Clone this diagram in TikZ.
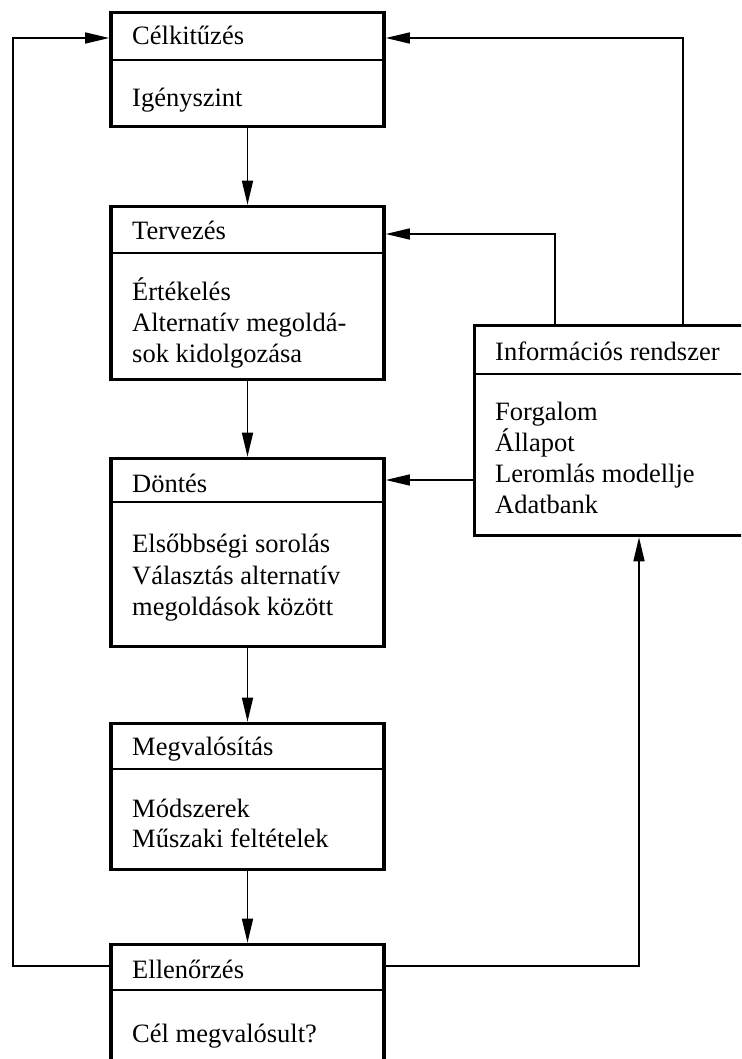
\documentclass[tikz,border=0pt]{standalone}
\usepackage{fontspec}
\setmainfont{Liberation Serif}
\usetikzlibrary{arrows.meta}
\begin{document}
\begin{tikzpicture}[x=1pt,y=-1pt,
  box/.style={draw, line width=3.6pt, inner sep=0pt, minimum width=273pt},
  sep/.style={line width=1.6pt},
  lbl/.style={anchor=base west, inner sep=0pt, font=\fontsize{26.5}{31}\selectfont},
  conn/.style={line width=1.5pt},
  arr/.style={conn, -{Triangle[length=24pt,width=11pt]}}]
\clip (0,0) rectangle (741,1059);

% process boxes
\node[box, minimum height=114pt]   (celk) at (247.5,69.5)   {};
\node[box, minimum height=173pt]   (terv) at (247.5,293)    {};
\node[box, minimum height=188pt]   (dont) at (247.5,552.5)  {};
\node[box, minimum height=146pt]   (megv) at (247.5,796.5)  {};
\node[box, minimum height=135.5pt] (ell)  at (247.5,1012.25) {};
\node[box, minimum width=285.5pt, minimum height=210pt] (info) at (617.25,430.5) {};

% header separators
\draw[sep] (111,60)    -- (384,60);
\draw[sep] (111,253)   -- (384,253);
\draw[sep] (111,502)   -- (384,502);
\draw[sep] (111,769)   -- (384,769);
\draw[sep] (111,990)   -- (384,990);
\draw[sep] (474.5,374) -- (760,374);

% texts
\node[lbl] (t1a) at (132,45)  {Célkitűzés};
\node[lbl] (t1b) at (132,107) {Igényszint};

\node[lbl] (t2a) at (132,240) {Tervezés};
\node[lbl] (t2b) at (132,300) {Értékelés};
\node[lbl] (t2c) at (132,331) {Alternatív megoldá-};
\node[lbl] (t2d) at (132,362) {sok kidolgozása};

\node[lbl] (t3a) at (132,492) {Döntés};
\node[lbl] (t3b) at (132,552) {Elsőbbségi sorolás};
\node[lbl] (t3c) at (132,584) {Választás alternatív};
\node[lbl] (t3d) at (132,615) {megoldások között};

\node[lbl] (t4a) at (132,755) {Megvalósítás};
\node[lbl] (t4b) at (132,817) {Módszerek};
\node[lbl] (t4c) at (132,847) {Műszaki feltételek};

\node[lbl] (t5a) at (132,978)  {Ellenőrzés};
\node[lbl] (t5b) at (132,1042) {Cél megvalósult?};

\node[lbl] (t6a) at (495,360) {Információs rendszer};
\node[lbl] (t6b) at (495,420) {Forgalom};
\node[lbl] (t6c) at (495,451) {Állapot};
\node[lbl] (t6d) at (495,482) {Leromlás modellje};
\node[lbl] (t6e) at (495,513) {Adatbank};

% main flow
\draw[arr] (celk.south) -- (terv.north);
\draw[arr] (terv.south) -- (dont.north);
\draw[arr] (dont.south) -- (megv.north);
\draw[arr] (megv.south) -- (ell.north);

% routing points
\coordinate (loopl) at (13,38);
\coordinate (loopr) at (639,966);
\coordinate (tapa)  at (683,38);
\coordinate (tapb)  at (555,234);
\coordinate (tapc)  at (0,480);

% feedback loops
\draw[arr] (ell.west |- loopr) -| (loopl) -- (celk.west |- loopl);
\draw[arr] (ell.east |- loopr) -| (info.south -| loopr);

% information feeds
\draw[arr] (info.north -| tapa) |- (celk.east |- tapa);
\draw[arr] (info.north -| tapb) |- (terv.east |- tapb);
\draw[arr] (info.west |- tapc) -- (dont.east |- tapc);
\end{tikzpicture}
\end{document}
